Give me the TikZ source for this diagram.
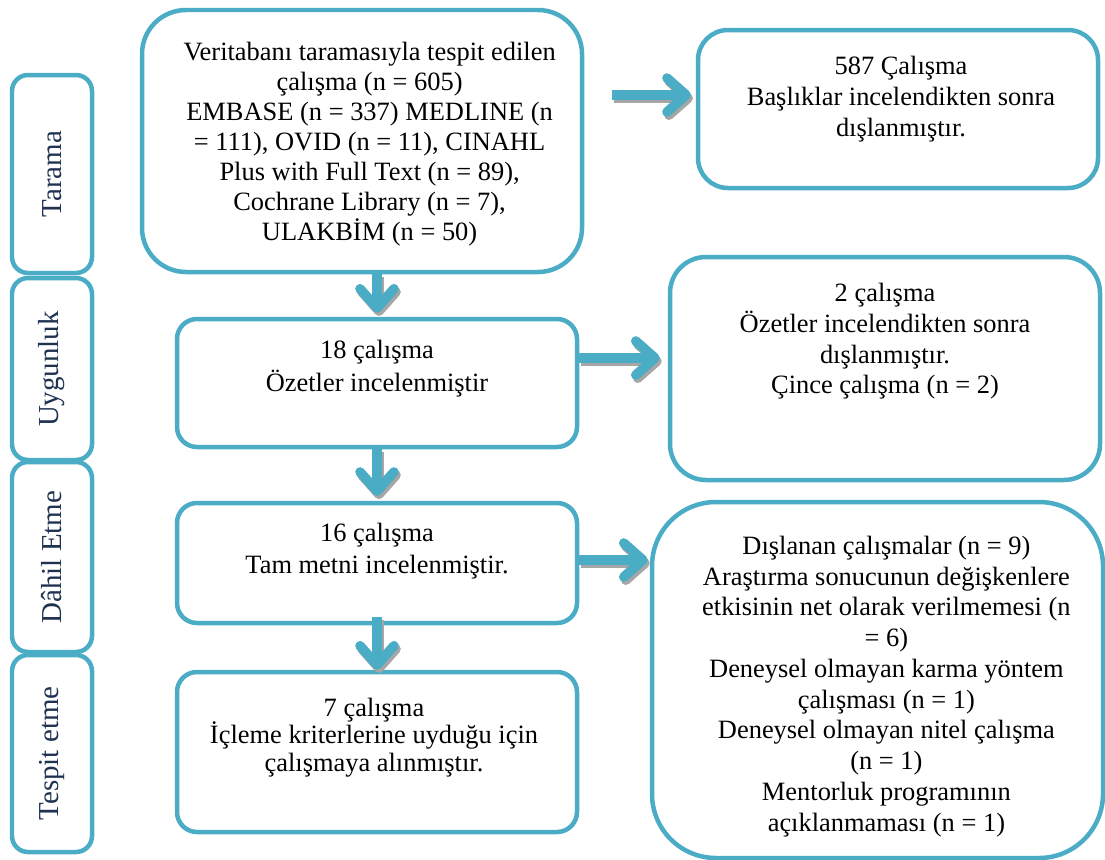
\documentclass[tikz,border=0pt]{standalone}
\usepackage{fontspec}
\setmainfont{Liberation Serif}
\usetikzlibrary{arrows.meta}
\definecolor{prismablue}{HTML}{4BACC6}
\definecolor{shadowgray}{HTML}{A6A6A6}
\definecolor{labelnavy}{HTML}{1F3250}
\newcommand{\fatarrow}[3][]{%
  \draw[flowshadow,#1] #2 -- #3;
  \draw[flow,#1] #2 -- #3;}

\begin{document}
\begin{tikzpicture}[
    box/.style={draw=prismablue, line width=3.2pt, fill=white, rounded corners=#1},
    sidebox/.style={draw=prismablue, line width=3.2pt, fill=white, rounded corners=0.4cm,
        minimum height=2cm, rotate=90, text=labelnavy,
        font=\fontsize{20.6}{23}\selectfont},
    txt/.style={align=center, inner sep=0pt, font=\fontsize{18.8}{#1}\selectfont},
    flowtip/.style={-{Straight Barb[length=0.48cm, width=0.85cm, round]}},
    flow/.style={flowtip, draw=prismablue, line width=0.24cm},
    flowshadow/.style={flowtip, draw=shadowgray, line width=0.24cm,
        transform canvas={shift={(0.05,-0.08)}}}
]
\useasboundingbox (0,0) rectangle (27.625,-21.475);

% side stages
\node[sidebox, minimum width=4.95cm] (tarama) at (1.3,-4.35) {Tarama};
\node[sidebox, minimum width=4.55cm] (uygun) at (1.3,-9.225) {Uygunluk};
\node[sidebox, minimum width=4.75cm] (dahil) at (1.3,-13.925) {Dâhil Etme};
\node[sidebox, minimum width=4.925cm] (tespit) at (1.3,-18.8375) {Tespit etme};

% main column
\node[box=1.1cm, minimum width=11cm, minimum height=6.55cm] (scan) at (9.05,-3.525) {};
\node[box=0.5cm, minimum width=10cm, minimum height=3.2cm] (elig) at (9.425,-9.575) {};
\node[box=0.5cm, minimum width=10cm, minimum height=3cm] (incl) at (9.425,-14.075) {};
\node[box=0.5cm, minimum width=10cm, minimum height=4cm] (ident) at (9.425,-18.8) {};

\node[txt=21.3] (scantext) at (9.24,-3.6) {Veritabanı taramasıyla tespit edilen\\
    çalışma (n = 605)\\ EMBASE (n = 337) MEDLINE (n\\ = 111), OVID (n = 11), CINAHL\\
    Plus with Full Text (n = 89),\\ Cochrane Library (n = 7),\\ ULAKBİM (n = 50)};
\node[txt=23.1] (eligtext) at (9.425,-9.2125) {18 çalışma\\ Özetler incelenmiştir};
\node[txt=23.1] (incltext) at (9.425,-13.775) {16 çalışma\\ Tam metni incelenmiştir.};
\node[txt=19.8] (identtext) at (9.35,-18.44) {7 çalışma\\ İçleme kriterlerine uyduğu için\\
    çalışmaya alınmıştır.};

% excluded column
\node[box=0.75cm, minimum width=10cm, minimum height=3.95cm] (excla) at (22.45,-2.725) {};
\node[box=0.9cm, minimum width=10.75cm, minimum height=5.575cm] (exclb) at (22.125,-9.2125) {};
\node[box=1.6cm, minimum width=11.275cm, minimum height=8.9cm] (exclc) at (21.9375,-17.0) {};

\node[txt=22] (exclatext) at (22.525,-2.475) {587 Çalışma\\ Başlıklar incelendikten sonra\\
    dışlanmıştır.};
\node[txt=21.8] (exclbtext) at (22.125,-8.5375) {2 çalışma\\ Özetler incelendikten sonra\\
    dışlanmıştır.\\ Çince çalışma (n = 2)};
\node[txt=21.9] (exclctext) at (22.16,-17.16) {Dışlanan çalışmalar (n = 9)\\
    Araştırma sonucunun değişkenlere\\ etkisinin net olarak verilmemesi (n\\ = 6)\\
    Deneysel olmayan karma yöntem\\ çalışması (n = 1)\\ Deneysel olmayan nitel çalışma\\
    (n = 1)\\ Mentorluk programının\\ açıklanmaması (n = 1)};

% arrows
\coordinate (astart) at (15.3,-2.375);
\coordinate (bstart) at ([yshift=0.625cm]elig.east);
\coordinate (cstart) at ([yshift=0.075cm]incl.east);
\fatarrow[shorten >=0.12cm]{(astart)}{(astart -| excla.west)}
\fatarrow[shorten >=0.2cm]{(bstart)}{(bstart -| exclb.west)}
\fatarrow[shorten >=0.05cm]{(cstart)}{(cstart -| exclc.west)}
\fatarrow[shorten >=0.1cm]{(scan.south -| elig.north)}{(elig.north)}
\fatarrow[shorten >=0.12cm]{(elig.south)}{(incl.north)}
\fatarrow[shorten <=-0.2cm]{(incl.south)}{(ident.north)}
\end{tikzpicture}
\end{document}
